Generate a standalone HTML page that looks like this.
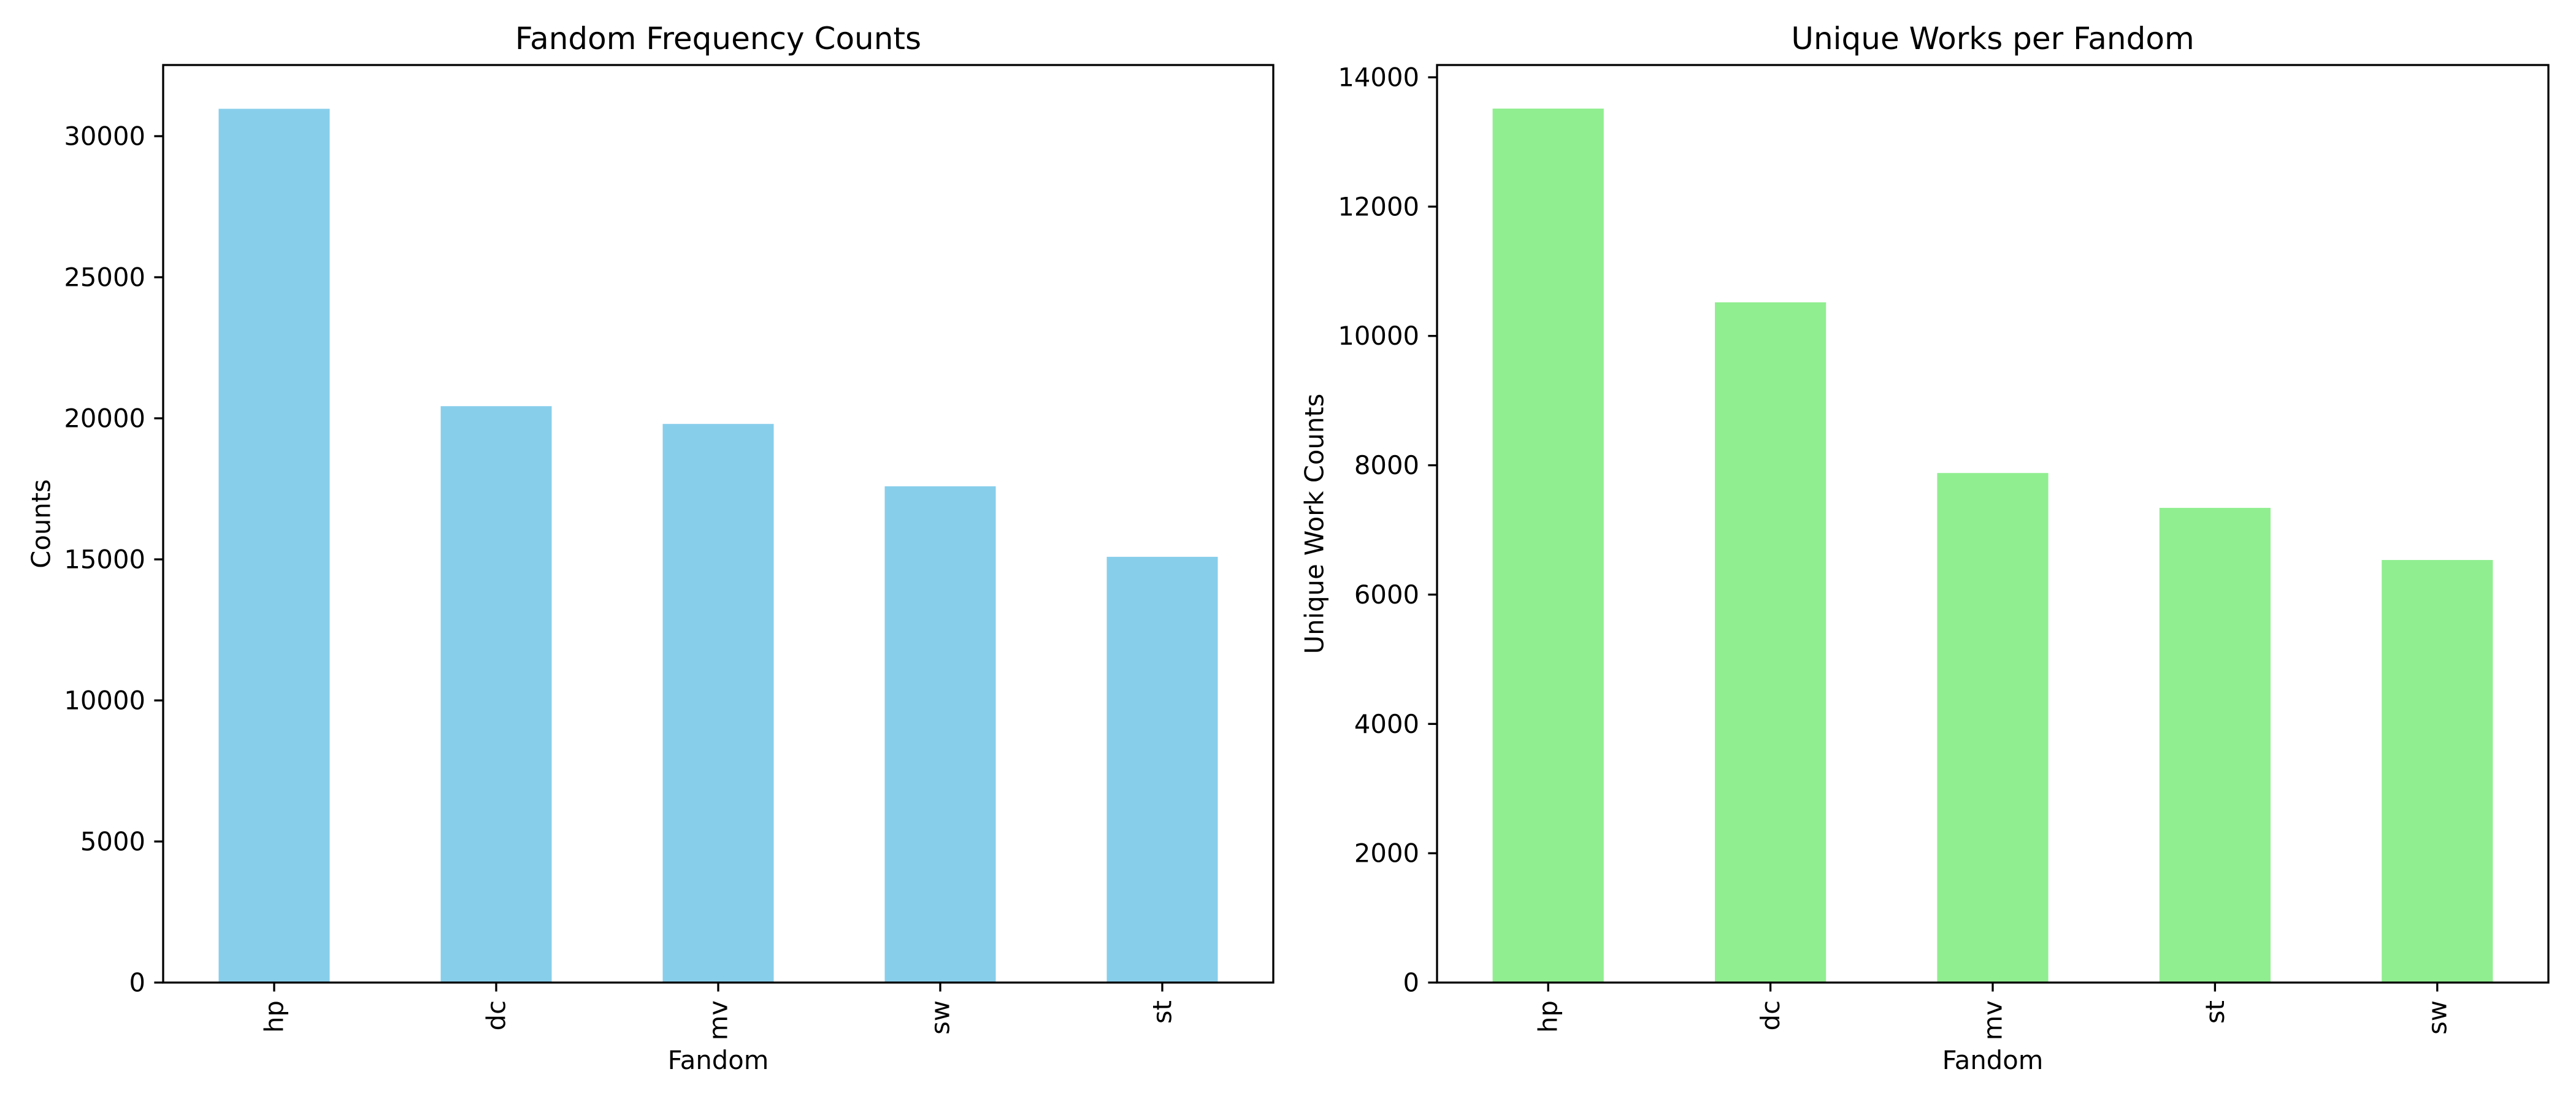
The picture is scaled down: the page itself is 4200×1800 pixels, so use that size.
<!DOCTYPE html>
<html><head><meta charset="utf-8"><style>
html,body{margin:0;padding:0;background:#fff;}
svg{display:block;font-family:"DejaVu Sans","Liberation Sans",sans-serif;}
</style></head><body>
<svg id="fig" width="4200" height="1800" viewBox="0 0 4200 1800" xmlns="http://www.w3.org/2000/svg"></svg>
<script>
const leftCategories = ["hp","dc","mv","sw","st"];
const leftValues = [30970, 20430, 19800, 17590, 15090];
const leftTicks = [0,5000,10000,15000,20000,25000,30000];
const rightCategories = ["hp","dc","mv","st","sw"];
const rightValues = [13516, 10520, 7880, 7341, 6535];
const rightTicks = [0,2000,4000,6000,8000,10000,12000,14000];

const NS = "http://www.w3.org/2000/svg";
const svg = document.getElementById("fig");
function mk(tag, attrs, parent){
  const e = document.createElementNS(NS, tag);
  for (const k in attrs) e.setAttribute(k, attrs[k]);
  (parent||svg).appendChild(e);
  return e;
}
function panel(cfg){
  const g = mk("g", {});
  
  
  const L=cfg.x0, R=cfg.x1, T=106, B=1602;
  const n = cfg.cats.length;
  const xs = i => L + (i + 0.5) * (R - L) / n;
  const bw = 0.5 * (R - L) / n;
  const ys = v => B - v * (B - T) / cfg.ymax;
  cfg.vals.forEach((v, i) => {
    const r = mk("rect", {x: xs(i) - bw/2, y: ys(v), width: bw, height: B - ys(v), fill: cfg.color}, g);
    
    
  });
  const frame = mk("rect", {x: L, y: T, width: R-L, height: B-T, fill: "none", stroke: "#000", "stroke-width": 3.3}, g);
  
  
  cfg.ticks.forEach(t => {
    const y = ys(t);
    const tl = mk("line", {x1: L - 14.6, x2: L, y1: y, y2: y, stroke: "#000", "stroke-width": 3.3}, g);
    
    
    const tx = mk("text", {x: L - 29, y: y, "text-anchor": "end", "dominant-baseline": "central", "font-size": 41.7}, g);
    tx.textContent = t;
    
    
  });
  cfg.cats.forEach((c, i) => {
    const x = xs(i);
    const tl = mk("line", {x1: x, x2: x, y1: B, y2: B + 14.6, stroke: "#000", "stroke-width": 3.3}, g);
    
    
    const tx = mk("text", {x: 0, y: 0, "text-anchor": "end", "dominant-baseline": "central", "font-size": 41.7,
      transform: "translate(" + x + "," + (B + 29) + ") rotate(-90)"}, g);
    tx.textContent = c;
    
    
  });
  const title = mk("text", {x: (L+R)/2, y: 80, "text-anchor": "middle", "font-size": 50}, g);
  title.textContent = cfg.title;
  
  
  const xl = mk("text", {x: (L+R)/2, y: 1743, "text-anchor": "middle", "font-size": 41.7}, g);
  xl.textContent = "Fandom";
  
  
  const yl = mk("text", {x: 0, y: 0, "text-anchor": "middle", "dominant-baseline": "central", "font-size": 41.7,
    transform: "translate(" + cfg.ylx + "," + ((T+B)/2) + ") rotate(-90)"}, g);
  yl.textContent = cfg.ylabel;
  
  
}
panel({name:"fandom-frequency-chart", x0:266, x1:2076, ymax:32522, cats:leftCategories, vals:leftValues, ticks:leftTicks,
  color:"#87ceeb", title:"Fandom Frequency Counts", ylabel:"Counts", ylx:67});
panel({name:"unique-works-chart", x0:2343, x1:4155, ymax:14190, cats:rightCategories, vals:rightValues, ticks:rightTicks,
  color:"#90ee90", title:"Unique Works per Fandom", ylabel:"Unique Work Counts", ylx:2143});
</script>
</body></html>
